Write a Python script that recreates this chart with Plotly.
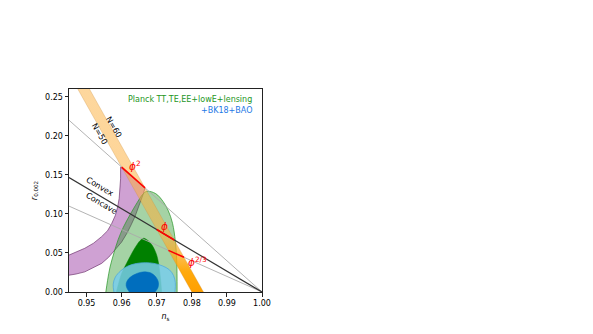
import plotly.graph_objects as go

# r vs n_s constraints
# Planck TT,TE,EE+lowE+lensing, 95% and 68% regions
planck95_ns = [0.9555, 0.9560, 0.9567, 0.9578, 0.9590, 0.9605, 0.9624, 0.9645, 0.9660,
               0.9672, 0.9697, 0.9718, 0.9733, 0.9745, 0.9753, 0.9757, 0.9758]
planck95_r = [0.000, 0.015, 0.032, 0.050, 0.067, 0.083, 0.099, 0.115, 0.125,
              0.129, 0.126, 0.116, 0.104, 0.088, 0.065, 0.040, 0.000]
planck68_ns = [0.9585, 0.9592, 0.9600, 0.9619, 0.9640, 0.9653, 0.9662, 0.9672, 0.9685,
               0.9696, 0.9703, 0.9710, 0.9714]
planck68_r = [0.000, 0.012, 0.0237, 0.041, 0.058, 0.066, 0.0688, 0.067, 0.061,
              0.052, 0.042, 0.020, 0.000]

# +BK18+BAO, 95% and 68% regions
bk95_ns = [0.9578, 0.9576, 0.9582, 0.9597, 0.9617, 0.9642, 0.9668, 0.9692,
           0.9716, 0.9736, 0.9748, 0.9753, 0.9752]
bk95_r = [0.000, 0.010, 0.019, 0.027, 0.033, 0.0365, 0.0375, 0.0366,
          0.0335, 0.0285, 0.021, 0.012, 0.000]
bk68_ns = [0.9622, 0.9614, 0.9613, 0.9620, 0.9635, 0.9652, 0.9668, 0.9685,
           0.9698, 0.9705, 0.9703, 0.9695]
bk68_r = [0.000, 0.006, 0.011, 0.017, 0.022, 0.025, 0.0258, 0.0240,
          0.019, 0.012, 0.005, 0.000]

# natural inflation band (purple): upper edge, phi^2 edge, lower edge
natural_ns = [0.9450, 0.9470, 0.9495, 0.9520, 0.9543, 0.9560, 0.9572, 0.9582, 0.9589,
              0.9593, 0.9595, 0.9597, 0.9597,
              0.96667, 0.9662, 0.9656, 0.9648, 0.9638, 0.9627, 0.9615, 0.9600, 0.9581,
              0.9563, 0.9543, 0.9520, 0.9495, 0.9470, 0.9450]
natural_r = [0.0473, 0.051, 0.056, 0.0625, 0.0709, 0.0785, 0.088, 0.098, 0.1096,
             0.120, 0.131, 0.145, 0.160,
             0.1333, 0.126, 0.118, 0.108, 0.0966, 0.086, 0.0752, 0.064, 0.0537,
             0.0445, 0.0366, 0.031, 0.0258, 0.023, 0.0215]

# phi^p band between N=50 and N=60
band_ns = [0.9425, 0.9800, 0.98333, 0.94583]
band_r = [0.30, 0.00, 0.00, 0.30]

# phi^p segments (N=50 -> N=60)
phi2_ns, phi2_r = [0.9600, 0.96667], [0.1600, 0.13333]
phi1_ns, phi1_r = [0.9700, 0.9750], [0.0800, 0.06667]
phi23_ns, phi23_r = [0.97333, 0.97778], [0.05333, 0.04444]

# reference lines from (0.945, r) to (1, 0)
line_ns = [0.945, 1.0]
upper_r = [0.220, 0.0]
convex_r = [0.14667, 0.0]
lower_r = [0.110, 0.0]

xticks = [0.95, 0.96, 0.97, 0.98, 0.99, 1.00]
yticks = [0.00, 0.05, 0.10, 0.15, 0.20, 0.25]

FONT = "DejaVu Sans"

fig = go.Figure()

fig.add_trace(go.Scatter(x=natural_ns, y=natural_r, fill="toself", mode="lines",
                         fillcolor="rgba(140,30,150,0.42)",
                         line=dict(color="rgba(100,40,100,0.8)", width=0.8)))
fig.add_trace(go.Scatter(x=planck95_ns, y=planck95_r, fill="toself", mode="lines",
                         line_shape="spline",
                         fillcolor="rgba(30,145,30,0.4)",
                         line=dict(color="rgba(40,150,40,0.9)", width=0.8)))
fig.add_trace(go.Scatter(x=planck68_ns, y=planck68_r, fill="toself", mode="lines",
                         line_shape="spline",
                         fillcolor="rgb(0,128,0)",
                         line=dict(color="rgb(0,128,0)", width=0.5)))
fig.add_trace(go.Scatter(x=band_ns, y=band_r, fill="toself", mode="lines",
                         fillgradient=dict(type="vertical", start=0, stop=0.26,
                                           colorscale=[[0, "rgba(255,160,0,1)"],
                                                       [0.1, "rgba(255,165,0,0.95)"],
                                                       [0.28, "rgba(252,175,60,0.55)"],
                                                       [1, "rgba(252,175,60,0.5)"]]),
                         line=dict(color="rgba(200,140,60,0.6)", width=0.5)))
fig.add_trace(go.Scatter(x=bk95_ns, y=bk95_r, fill="toself", mode="lines",
                         line_shape="spline",
                         fillcolor="rgba(120,205,235,0.85)",
                         line=dict(color="rgb(80,170,220)", width=0.8)))
fig.add_trace(go.Scatter(x=bk68_ns, y=bk68_r, fill="toself", mode="lines",
                         line_shape="spline",
                         fillcolor="rgb(0,110,190)",
                         line=dict(color="rgb(0,110,190)", width=0.5)))

for r_vals, col, w in [(upper_r, "#aaaaaa", 0.9), (lower_r, "#aaaaaa", 0.9),
                       (convex_r, "#333333", 1.2)]:
    fig.add_trace(go.Scatter(x=line_ns, y=r_vals, mode="lines",
                             line=dict(color=col, width=w)))

for xs, ys in [(phi2_ns, phi2_r), (phi1_ns, phi1_r), (phi23_ns, phi23_r)]:
    fig.add_trace(go.Scatter(x=xs, y=ys, mode="lines",
                             line=dict(color="red", width=1.6)))

# text labels
fig.add_annotation(x=0.9578, y=0.2106, text="N=60", textangle=60, showarrow=False,
                   font=dict(size=8, color="black"))
fig.add_annotation(x=0.9538, y=0.2020, text="N=50", textangle=60, showarrow=False,
                   font=dict(size=8, color="black"))
fig.add_annotation(x=0.9537, y=0.1355, text="Convex", textangle=30.7, showarrow=False,
                   font=dict(size=8, color="black"))
fig.add_annotation(x=0.9542, y=0.1130, text="Concave", textangle=30.7, showarrow=False,
                   font=dict(size=8, color="black"))
fig.add_annotation(x=0.9614, y=0.1620, text="<i>ϕ</i><sup>2</sup>", showarrow=False,
                   xanchor="left", font=dict(size=10.5, color="red"))
fig.add_annotation(x=0.9706, y=0.0845, text="<i>ϕ</i>", showarrow=False,
                   xanchor="left", font=dict(size=10.5, color="red"))
fig.add_annotation(x=0.9782, y=0.0390, text="<i>ϕ</i><sup>2/3</sup>", showarrow=False,
                   xanchor="left", font=dict(size=10.5, color="red"))
fig.add_annotation(x=0.9977, y=0.2460, text="Planck TT,TE,EE+lowE+lensing",
                   showarrow=False, xanchor="right",
                   font=dict(size=8, color="rgb(30,150,30)"))
fig.add_annotation(x=0.9977, y=0.2320, text="+BK18+BAO",
                   showarrow=False, xanchor="right",
                   font=dict(size=8, color="rgb(30,120,230)"))

axis_style = dict(showline=True, mirror=True, linecolor="#222", linewidth=1,
                  ticks="outside", ticklen=3.5, tickwidth=0.8, tickcolor="#222",
                  showgrid=False, zeroline=False, tickformat=".2f",
                  tickfont=dict(size=8, color="black"))

# page body has an 8px margin, so the figure is a bit smaller than the window
fig.update_layout(
    width=585, height=326,
    margin=dict(l=61, r=331, t=81, b=42),
    plot_bgcolor="white", paper_bgcolor="white",
    showlegend=False,
    font=dict(family=FONT, color="black"),
    xaxis=dict(range=[0.945, 1.0], tickvals=xticks,
               title=dict(text="<i>n</i><sub>s</sub>", font=dict(size=8), standoff=6),
               **axis_style),
    yaxis=dict(range=[0, 0.26], tickvals=yticks,
               title=dict(text="<i>r</i><sub>0.002</sub>", font=dict(size=8), standoff=6),
               **axis_style),
)

fig.write_html("out.html")
